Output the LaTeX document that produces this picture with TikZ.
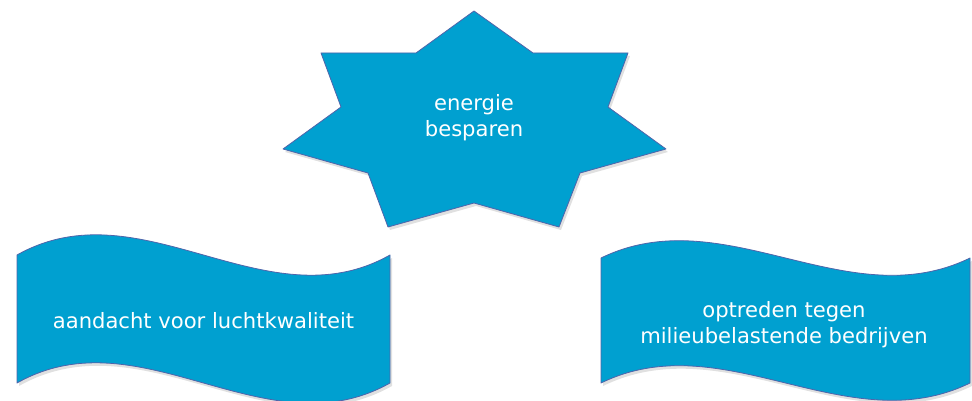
\documentclass[tikz,border=0pt]{standalone}
\usepackage{fontspec}
\setmainfont{DejaVu Sans}
\definecolor{shapefill}{RGB}{0,160,208}
\definecolor{shapeline}{RGB}{80,100,170}
\tikzset{
  shapebody/.style={fill=shapefill, draw=shapeline, line width=0.8pt, line join=round},
  shapeshadow/.style={fill=black, opacity=0.12},
  label/.style={text=white, font=\fontsize{21.1}{26.5}\selectfont, align=center, inner sep=0pt}
}
\begin{document}
\begin{tikzpicture}[x=1pt,y=-1pt]
\useasboundingbox (0,0) rectangle (972,401);
% star shape
\begin{scope}[shift={(2,3)}]
  \fill[shapeshadow] (474,11) -- (533,53) -- (628,53) -- (608,107) -- (666,149) -- (580,173) -- (559,227) -- (474,203) -- (388,227) -- (368,173) -- (283,149) -- (341,107) -- (321,53) -- (416,53) -- cycle;
\end{scope}
\path[shapebody] (474,11) -- (533,53) -- (628,53) -- (608,107) -- (666,149) -- (580,173) -- (559,227) -- (474,203) -- (388,227) -- (368,173) -- (283,149) -- (341,107) -- (321,53) -- (416,53) -- cycle;
% left wave banner
\begin{scope}[shift={(2,3)}]
  \fill[shapeshadow] (17,255) .. controls (141.3,185) and (265.7,325) .. (390,255) -- (390,383) .. controls (265.7,453) and (141.3,313) .. (17,383) -- cycle;
\end{scope}
\path[shapebody] (17,255) .. controls (141.3,185) and (265.7,325) .. (390,255) -- (390,383) .. controls (265.7,453) and (141.3,313) .. (17,383) -- cycle;
% right wave banner
\begin{scope}[shift={(2,3)}]
  \fill[shapeshadow] (601,258) .. controls (724,198) and (847,318) .. (970,258) -- (970,383) .. controls (847,443) and (724,323) .. (601,383) -- cycle;
\end{scope}
\path[shapebody] (601,258) .. controls (724,198) and (847,318) .. (970,258) -- (970,383) .. controls (847,443) and (724,323) .. (601,383) -- cycle;
% texts
\node[label] (star) at (474,117.5) {energie\\besparen};
\node[label, anchor=base] (left) at (203.5,328) {aandacht voor luchtkwaliteit};
\node[label] (right) at (784,324.5) {optreden tegen\\milieubelastende bedrijven};
\end{tikzpicture}
\end{document}
